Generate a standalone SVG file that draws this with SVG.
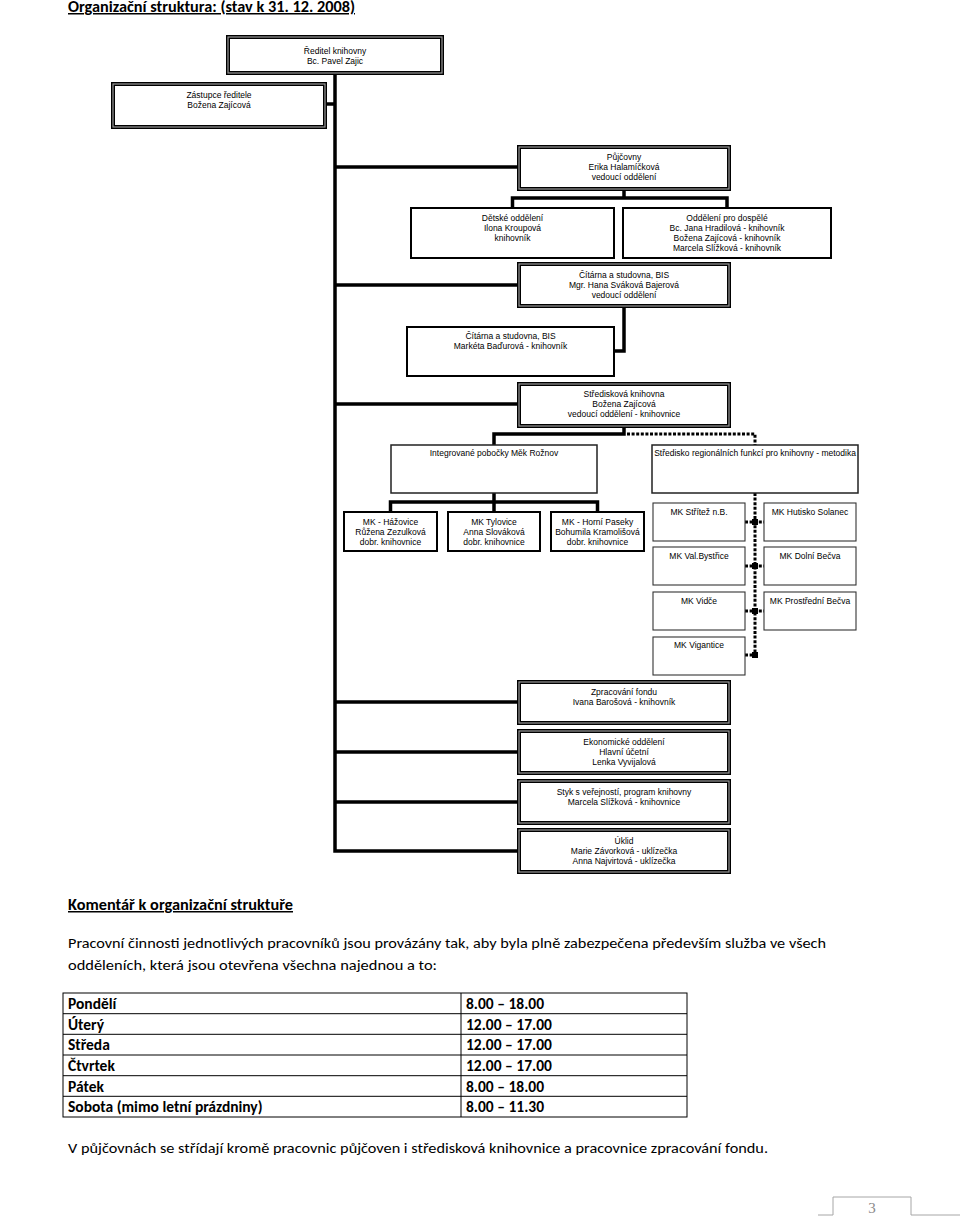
<svg xmlns="http://www.w3.org/2000/svg" width="960" height="1218" viewBox="0 0 960 1218">
<style>
.t{font-family:"Liberation Sans",Arial,sans-serif;font-size:8.5px;fill:#000;text-anchor:middle}
.o{fill:#fff;stroke:#000;stroke-width:4}
.i{fill:none;stroke:#9a9a9a;stroke-width:1.2}
.s{fill:#fff;stroke:#000;stroke-width:2}
.m{fill:#fff;stroke:#222;stroke-width:1.5}
.n{fill:#fff;stroke:#333;stroke-width:1.1}
.c{fill:none;stroke:#000;stroke-width:3.5;stroke-linejoin:miter}
.d{fill:none;stroke:#000;stroke-width:3;stroke-dasharray:3 1.6}
.h{font-family:Carlito,Lato,"Liberation Sans",sans-serif;font-weight:bold;fill:#000}
.p{font-family:Carlito,Lato,"Liberation Sans",sans-serif;font-size:15px;fill:#000}
.b{font-family:Carlito,Lato,"Liberation Sans",sans-serif;font-size:15.5px;font-weight:bold;fill:#000}
.g{fill:none;stroke:#000;stroke-width:1}
</style>

<text class="h" x="68" y="12" font-size="15" text-decoration="underline" textLength="287" lengthAdjust="spacingAndGlyphs">Organizační struktura: (stav k 31. 12. 2008)</text>

<g id="connectors">
<path class="c" d="M335 73 V851 H519"/>
<path class="c" d="M325 104 H335"/>
<path class="c" d="M335 167 H519"/>
<path class="c" d="M335 285 H519"/>
<path class="c" d="M335 404 H519"/>
<path class="c" d="M335 702 H519"/>
<path class="c" d="M335 752 H519"/>
<path class="c" d="M335 802 H519"/>
<path class="c" d="M624 189 V198"/>
<path class="c" d="M512.5 208 V198 H727 V208"/>
<path class="c" d="M624 306 V351 H614"/>
<path class="c" d="M624 426 V434 H494 V445"/>
<path class="d" d="M627 434 H755 V445"/>
<path class="c" d="M494 493 V512"/>
<path class="c" d="M390.5 512 V502 H597.5 V512"/>
<path class="d" d="M755 493 V655"/>
<path class="d" d="M745 522 H764 M745 566 H764 M745 611 H764 M745 655 H755"/>
<rect x="752" y="519" width="6" height="6"/>
<rect x="752" y="563" width="6" height="6"/>
<rect x="752" y="608" width="6" height="6"/>
<rect x="752" y="652" width="6" height="6"/>
</g>

<g id="reditel"><rect class="o" x="228" y="37" width="214" height="36"/><rect class="i" x="228" y="37" width="214" height="36"/>
<text class="t" x="335" y="53.5">Ředitel knihovny</text><text class="t" x="335" y="63.5">Bc. Pavel Zajic</text></g>

<g id="zastupce"><rect class="o" x="113" y="84" width="212" height="43"/><rect class="i" x="113" y="84" width="212" height="43"/>
<text class="t" x="219" y="98">Zástupce ředitele</text><text class="t" x="219" y="107.5">Božena Zajícová</text></g>

<g id="pujcovny"><rect class="o" x="519" y="147" width="210" height="42"/><rect class="i" x="519" y="147" width="210" height="42"/>
<text class="t" x="624" y="160">Půjčovny</text><text class="t" x="624" y="170">Erika Halamíčková</text><text class="t" x="624" y="180">vedoucí oddělení</text></g>

<g id="detske"><rect class="s" x="411" y="208" width="203" height="50"/>
<text class="t" x="512.5" y="220.5">Dětské oddělení</text><text class="t" x="512.5" y="231">Ilona Kroupová</text><text class="t" x="512.5" y="241">knihovník</text></g>

<g id="dospele"><rect class="s" x="623" y="208" width="208" height="50"/>
<text class="t" x="727" y="220.5">Oddělení pro dospělé</text><text class="t" x="727" y="230.5">Bc. Jana Hradilová - knihovník</text><text class="t" x="727" y="240.5">Božena Zajícová - knihovník</text><text class="t" x="727" y="250.5">Marcela Slížková - knihovník</text></g>

<g id="citarna-vedouci"><rect class="o" x="519" y="264" width="210" height="42"/><rect class="i" x="519" y="264" width="210" height="42"/>
<text class="t" x="624" y="278">Čítárna a studovna, BIS</text><text class="t" x="624" y="288">Mgr. Hana Sváková Bajerová</text><text class="t" x="624" y="298">vedoucí oddělení</text></g>

<g id="citarna-knihovnik"><rect class="s" x="407" y="327" width="207" height="49"/>
<text class="t" x="510.5" y="339">Čítárna a studovna, BIS</text><text class="t" x="510.5" y="349">Markéta Baďurová - knihovník</text></g>

<g id="strediskova"><rect class="o" x="519" y="384" width="210" height="42"/><rect class="i" x="519" y="384" width="210" height="42"/>
<text class="t" x="624" y="397">Středisková knihovna</text><text class="t" x="624" y="407">Božena Zajícová</text><text class="t" x="624" y="417">vedoucí oddělení - knihovnice</text></g>

<g id="integrovane"><rect class="m" x="391" y="445" width="206" height="48"/>
<text class="t" x="494" y="456">Integrované pobočky Měk Rožnov</text></g>

<g id="stredisko-reg"><rect class="m" x="652" y="445" width="206" height="48"/>
<text class="t" x="755" y="456">Středisko regionálních funkcí pro knihovny - metodika</text></g>

<g id="hazovice"><rect class="s" x="344" y="512" width="93" height="39"/>
<text class="t" x="390.5" y="525">MK - Hážovice</text><text class="t" x="390.5" y="535">Růžena Zezulková</text><text class="t" x="390.5" y="545">dobr. knihovnice</text></g>

<g id="tylovice"><rect class="s" x="448" y="512" width="92" height="39"/>
<text class="t" x="494" y="525">MK Tylovice</text><text class="t" x="494" y="535">Anna Slováková</text><text class="t" x="494" y="545">dobr. knihovnice</text></g>

<g id="horni-paseky"><rect class="s" x="551" y="512" width="93" height="39"/>
<text class="t" x="597.5" y="525">MK - Horní Paseky</text><text class="t" x="597.5" y="535">Bohumila Kramolišová</text><text class="t" x="597.5" y="545">dobr. knihovnice</text></g>

<g id="stritez"><rect class="n" x="653" y="503" width="92" height="38"/><text class="t" x="699" y="515">MK Střítež n.B.</text></g>
<g id="hutisko"><rect class="n" x="764" y="503" width="92" height="38"/><text class="t" x="810" y="515">MK Hutisko Solanec</text></g>
<g id="valbystrice"><rect class="n" x="653" y="547" width="92" height="38"/><text class="t" x="699" y="559">MK Val.Bystřice</text></g>
<g id="dolni-becva"><rect class="n" x="764" y="547" width="92" height="38"/><text class="t" x="810" y="559">MK Dolní Bečva</text></g>
<g id="vidce"><rect class="n" x="653" y="592" width="92" height="38"/><text class="t" x="699" y="604">MK Vidče</text></g>
<g id="prostredni-becva"><rect class="n" x="764" y="592" width="92" height="38"/><text class="t" x="810" y="604">MK Prostřední Bečva</text></g>
<g id="vigantice"><rect class="n" x="653" y="637" width="92" height="38"/><text class="t" x="699" y="648">MK Vigantice</text></g>

<g id="zpracovani"><rect class="o" x="519" y="682" width="210" height="41"/><rect class="i" x="519" y="682" width="210" height="41"/>
<text class="t" x="624" y="695">Zpracování fondu</text><text class="t" x="624" y="705">Ivana Barošová - knihovník</text></g>

<g id="ekonomicke"><rect class="o" x="519" y="731" width="210" height="42"/><rect class="i" x="519" y="731" width="210" height="42"/>
<text class="t" x="624" y="745">Ekonomické oddělení</text><text class="t" x="624" y="755">Hlavní účetní</text><text class="t" x="624" y="765">Lenka Vyvijalová</text></g>

<g id="styk"><rect class="o" x="519" y="781" width="210" height="42"/><rect class="i" x="519" y="781" width="210" height="42"/>
<text class="t" x="624" y="795">Styk s veřejností, program knihovny</text><text class="t" x="624" y="805">Marcela Slížková - knihovnice</text></g>

<g id="uklid"><rect class="o" x="519" y="830" width="210" height="42"/><rect class="i" x="519" y="830" width="210" height="42"/>
<text class="t" x="624" y="844">Úklid</text><text class="t" x="624" y="854">Marie Závorková - uklízečka</text><text class="t" x="624" y="864">Anna Najvirtová - uklízečka</text></g>

<text class="h" x="68" y="910" font-size="15" text-decoration="underline" textLength="225" lengthAdjust="spacingAndGlyphs">Komentář k organizační struktuře</text>
<text class="p" x="68" y="948" textLength="758" lengthAdjust="spacingAndGlyphs">Pracovní činnosti jednotlivých pracovníků jsou provázány tak, aby byla plně zabezpečena především služba ve všech</text>
<text class="p" x="68" y="970" textLength="369" lengthAdjust="spacingAndGlyphs">odděleních, která jsou otevřena všechna najednou a to:</text>

<g id="table">
<rect class="g" x="63" y="993" width="624" height="124"/>
<path class="g" d="M461 993 V1117 M63 1013.7 H687 M63 1034.3 H687 M63 1055 H687 M63 1075.7 H687 M63 1096.3 H687"/>
<text class="b" x="68" y="1009">Pondělí</text><text class="b" x="466" y="1009">8.00 – 18.00</text>
<text class="b" x="68" y="1029.7">Úterý</text><text class="b" x="466" y="1029.7">12.00 – 17.00</text>
<text class="b" x="68" y="1050.3">Středa</text><text class="b" x="466" y="1050.3">12.00 – 17.00</text>
<text class="b" x="68" y="1071">Čtvrtek</text><text class="b" x="466" y="1071">12.00 – 17.00</text>
<text class="b" x="68" y="1091.7">Pátek</text><text class="b" x="466" y="1091.7">8.00 – 18.00</text>
<text class="b" x="68" y="1112.3">Sobota (mimo letní prázdniny)</text><text class="b" x="466" y="1112.3">8.00 – 11.30</text>
</g>

<text class="p" x="68" y="1153" textLength="700" lengthAdjust="spacingAndGlyphs">V půjčovnách se střídají kromě pracovnic půjčoven i středisková knihovnice a pracovnice zpracování fondu.</text>

<g id="page-number">
<path d="M818 1215 H833 V1197 H911 V1215 H960" fill="none" stroke="#a6a6a6" stroke-width="1"/>
<text x="872" y="1213" font-family="'Liberation Serif',serif" font-size="15" fill="#8a8a8a" text-anchor="middle">3</text>
</g>
</svg>
